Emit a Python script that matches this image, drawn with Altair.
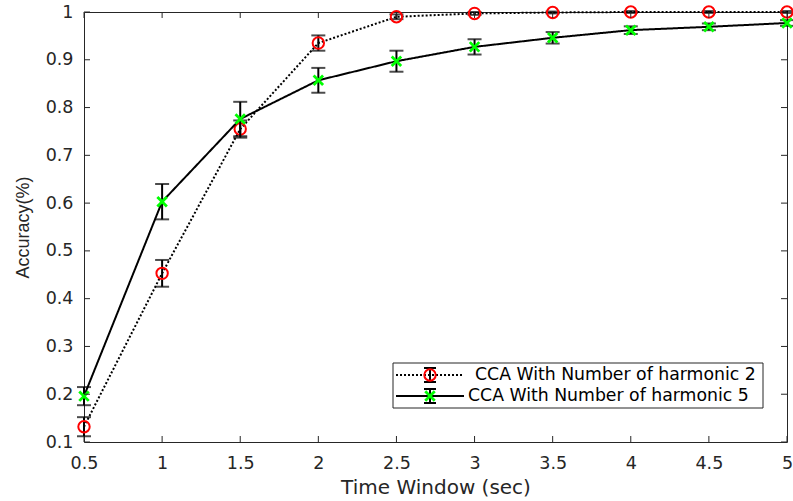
import altair as alt
import pandas as pd

time_window = [0.5, 1.0, 1.5, 2.0, 2.5, 3.0, 3.5, 4.0, 4.5, 5.0]
acc_h2 = [0.132, 0.453, 0.755, 0.935, 0.990, 0.997, 0.999, 1.0, 1.0, 1.0]
err_h2 = [0.020, 0.028, 0.018, 0.016, 0.005, 0.003, 0.002, 0.002, 0.002, 0.002]
acc_h5 = [0.196, 0.603, 0.776, 0.857, 0.897, 0.927, 0.946, 0.962, 0.969, 0.977]
err_h5 = [0.019, 0.037, 0.036, 0.026, 0.022, 0.016, 0.012, 0.008, 0.007, 0.006]
x_ticks = [0.5, 1.0, 1.5, 2.0, 2.5, 3.0, 3.5, 4.0, 4.5, 5.0]
y_ticks = [0.1, 0.2, 0.3, 0.4, 0.5, 0.6, 0.7, 0.8, 0.9, 1.0]
labels = ["CCA With Number of harmonic 2", "CCA With Number of harmonic 5"]

W, H = 703, 430
FONT = "DejaVu Sans"
TXT = "#262626"

d2 = pd.DataFrame({"t": time_window, "acc": acc_h2, "err": err_h2})
d5 = pd.DataFrame({"t": time_window, "acc": acc_h5, "err": err_h5})
for d in (d2, d5):
    d["lo"] = d["acc"] - d["err"]
    d["hi"] = d["acc"] + d["err"]

xs = alt.Scale(domain=[0.5, 5], nice=False, zero=False)
ys = alt.Scale(domain=[0.1, 1], nice=False, zero=False)

X = alt.X("t:Q", scale=xs, title="Time Window (sec)",
          axis=alt.Axis(values=x_ticks, format="~g", titleFont=FONT, titleFontSize=20,
                        labelFlush=False))
Y = alt.Y("acc:Q", scale=ys, title="Accuracy(%)",
          axis=alt.Axis(values=y_ticks, format="~g", titleFont="Liberation Sans", titleFontSize=18,
                        labelFlush=False))

XPATH = "M-1,-1L1,1M-1,1L1,-1"


def series(d, dashed, marker):
    base = alt.Chart(d)
    line = base.mark_line(color="black", strokeWidth=2,
                          strokeDash=[2, 2] if dashed else [1, 0], clip=False).encode(x=X, y=Y)
    bar = base.mark_rule(color="black", strokeWidth=2).encode(
        x=alt.X("t:Q", scale=xs), y=alt.Y("lo:Q", scale=ys), y2="hi:Q")
    cap_lo = base.mark_tick(color="black", orient="horizontal", size=14, thickness=2).encode(
        x=alt.X("t:Q", scale=xs), y=alt.Y("lo:Q", scale=ys))
    cap_hi = base.mark_tick(color="black", orient="horizontal", size=14, thickness=2).encode(
        x=alt.X("t:Q", scale=xs), y=alt.Y("hi:Q", scale=ys))
    if marker == "o":
        pts = base.mark_point(shape="circle", filled=False, stroke="#ff0000", strokeWidth=2,
                              size=130, opacity=1).encode(x=alt.X("t:Q", scale=xs), y=alt.Y("acc:Q", scale=ys))
    else:
        pts = base.mark_point(shape=XPATH, filled=False, stroke="#00ff00", strokeWidth=2.8,
                              size=90, opacity=1).encode(x=alt.X("t:Q", scale=xs), y=alt.Y("acc:Q", scale=ys))
    return [line, bar, cap_lo, cap_hi, pts]


# inward tick marks on all four sides
xt = pd.DataFrame({"t": x_ticks})
yt = pd.DataFrame({"acc": y_ticks})
tk = dict(color=TXT, strokeWidth=1)
ticks = [
    alt.Chart(xt).mark_rule(**tk).encode(x=alt.X("t:Q", scale=xs), y=alt.value(H), y2=alt.value(H - 6)),
    alt.Chart(xt).mark_rule(**tk).encode(x=alt.X("t:Q", scale=xs), y=alt.value(0), y2=alt.value(6)),
    alt.Chart(yt).mark_rule(**tk).encode(y=alt.Y("acc:Q", scale=ys), x=alt.value(0), x2=alt.value(6)),
    alt.Chart(yt).mark_rule(**tk).encode(y=alt.Y("acc:Q", scale=ys), x=alt.value(W), x2=alt.value(W - 6)),
]

# legend (manual, MATLAB style)
one = pd.DataFrame({"a": [0]})
LX0, LX1, LY0, LY1 = 309, 679, 351, 396
R1, R2 = 363, 384
SX0, SX1, SM = 312, 380, 346
leg = [
    alt.Chart(one).mark_rect(fill="white", stroke=TXT, strokeWidth=1).encode(
        x=alt.value(LX0), x2=alt.value(LX1), y=alt.value(LY0), y2=alt.value(LY1)),
    alt.Chart(one).mark_rule(color="black", strokeWidth=2, strokeDash=[2, 2]).encode(
        x=alt.value(SX0), x2=alt.value(SX1), y=alt.value(R1)),
    alt.Chart(one).mark_rule(color="black", strokeWidth=2).encode(
        x=alt.value(SX0), x2=alt.value(SX1), y=alt.value(R2)),
]
for ry in (R1, R2):
    leg += [
        alt.Chart(one).mark_rule(color="black", strokeWidth=2).encode(
            x=alt.value(SM), y=alt.value(ry - 7), y2=alt.value(ry + 7)),
        alt.Chart(one).mark_rule(color="black", strokeWidth=2).encode(
            x=alt.value(SM - 6), x2=alt.value(SM + 6), y=alt.value(ry - 7)),
        alt.Chart(one).mark_rule(color="black", strokeWidth=2).encode(
            x=alt.value(SM - 6), x2=alt.value(SM + 6), y=alt.value(ry + 7)),
    ]
leg += [
    alt.Chart(one).mark_point(shape="circle", filled=False, stroke="#ff0000", strokeWidth=2,
                              size=130, opacity=1).encode(x=alt.value(SM), y=alt.value(R1)),
    alt.Chart(one).mark_point(shape=XPATH, filled=False, stroke="#00ff00", strokeWidth=2.8,
                              size=90, opacity=1).encode(x=alt.value(SM), y=alt.value(R2)),
    alt.Chart(one).mark_text(text=labels[0], align="left", baseline="middle", font=FONT,
                             fontSize=17.3, color="black").encode(x=alt.value(391), y=alt.value(R1)),
    alt.Chart(one).mark_text(text=labels[1], align="left", baseline="middle", font=FONT,
                             fontSize=17.3, color="black").encode(x=alt.value(384), y=alt.value(R2)),
]

layers = series(d2, True, "o") + series(d5, False, "x") + ticks + leg

chart = alt.layer(*layers).properties(
    width=W, height=H,
    autosize=alt.AutoSizeParams(type="none"),
    padding={"left": 84, "top": 12, "right": 6, "bottom": 59},
    background="white",
).configure_view(stroke=TXT, strokeWidth=1).configure_axis(
    grid=False, ticks=False, domain=False, labelFont=FONT,
    labelFontSize=17.5, labelColor=TXT, titleColor=TXT,
    titleFontWeight="normal",
).configure_axisX(labelPadding=12, titlePadding=6).configure_axisY(
    labelPadding=11, titlePadding=13)

chart.save("out.html", embed_options={"renderer": "svg", "actions": False})
